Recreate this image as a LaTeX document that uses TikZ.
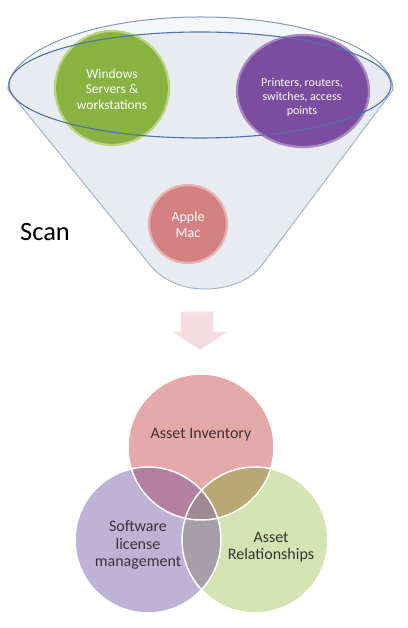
\documentclass[tikz,border=0pt]{standalone}
\usepackage{fontspec}
\setmainfont{Carlito}
\usetikzlibrary{shapes.geometric}
\definecolor{funfill}{HTML}{E8ECF1}
\definecolor{rimfill}{HTML}{F5F7FA}
\definecolor{funedge}{HTML}{A3B6CD}
\definecolor{rimblue}{HTML}{4A73AB}
\definecolor{outblue}{HTML}{7F9CC4}
\definecolor{wingreen}{HTML}{88B341}
\definecolor{winrim}{HTML}{BCD583}
\definecolor{prpurple}{HTML}{7B4C9F}
\definecolor{prrim}{HTML}{A888C2}
\definecolor{macpink}{HTML}{D48281}
\definecolor{macrim}{HTML}{E7B3B1}
\definecolor{arrpink}{HTML}{F5DCE0}
\definecolor{vpink}{HTML}{E5A9AA}
\definecolor{vpurple}{HTML}{BFB3D5}
\definecolor{vgreen}{HTML}{D3E3B2}
\definecolor{vpp}{HTML}{B3819F}
\definecolor{vpg}{HTML}{BBA773}
\definecolor{vgg}{HTML}{A79FA8}
\definecolor{vall}{HTML}{A08893}
\definecolor{vtext}{HTML}{3B3236}
\tikzset{
  ball/.style={circle, inner sep=0pt, line width=2.2pt},
  balltext/.style={text=white, align=center, font=\fontsize{13.5}{15.5}\selectfont},
  vcircle/.style={circle, minimum size=146pt, inner sep=0pt},
  vtextstyle/.style={text=vtext, align=center, font=\fontsize{16}{17.5}\selectfont},
}
\begin{document}
\begin{tikzpicture}[x=1pt,y=1pt]
\useasboundingbox (0,0) rectangle (407,628);
% funnel body
\fill[funfill] (8,538) arc[start angle=180,end angle=0,x radius=192.5,y radius=73]
  -- (262,363) .. controls (250,347) and (228,339) .. (205,339)
  .. controls (185,339) and (164,346) .. (150,363) -- cycle;
\fill[rimfill] (8,538) arc[start angle=180,end angle=0,x radius=192.5,y radius=73]
  -- (391,543) arc[start angle=0,end angle=180,x radius=191,y radius=53] -- cycle;
\draw[funedge, line width=1pt] (393,538)
  -- (262,363) .. controls (250,347) and (228,339) .. (205,339)
  .. controls (185,339) and (164,346) .. (150,363) -- (8,538);
\draw[outblue, line width=1pt] (8,538) arc[start angle=180,end angle=0,x radius=192.5,y radius=73];
% balls
\node[ball, fill=wingreen, draw=winrim, minimum size=114pt] (win) at (112,540) {};
\node[balltext] (wintext) at (112,539) {Windows\\Servers \&\\workstations};
\node[ellipse, inner sep=0pt, line width=2.2pt, fill=prpurple, draw=prrim, minimum width=132pt, minimum height=112pt] (prn) at (303,537) {};
\node[balltext, font=\fontsize{12}{14}\selectfont] (prntext) at (302,531) {Printers, routers,\\switches, access\\points};
\node[ball, fill=macpink, draw=macrim, minimum size=78pt] (mac) at (188,404) {};
\node[balltext, font=\fontsize{14}{16}\selectfont] (mactext) at (188,403) {Apple\\Mac};
% inner rim ellipse
\draw[rimblue, line width=1.1pt] (200,543) ellipse[x radius=191, y radius=53];
% Scan label
\node[font=\fontsize{26.5}{30}\selectfont, text=black] (scan) at (45,396) {Scan};
% arrow
\fill[arrpink, draw=white!88!gray, line width=0.8pt] (181,316) -- (213,316) -- (213,296) -- (227,296)
  -- (200,278) -- (173,296) -- (181,296) -- cycle;
% Venn
\node[vcircle, fill=vpink] (inv) at (201,181) {};
\node[vcircle, fill=vpurple] (sw) at (148,88) {};
\node[vcircle, fill=vgreen] (rel) at (255,88) {};
\begin{scope}
  \clip (201,181) circle (73);
  \fill[vpp] (148,88) circle (73);
  \fill[vpg] (255,88) circle (73);
\end{scope}
\begin{scope}
  \clip (148,88) circle (73);
  \fill[vgg] (255,88) circle (73);
  \clip (201,181) circle (73);
  \fill[vall] (255,88) circle (73);
\end{scope}
\draw[white, line width=1.5pt] (inv.center) circle (73) (sw.center) circle (73) (rel.center) circle (73);
\node[vtextstyle] (invtext) at (201,193) {Asset Inventory};
\node[vtextstyle] (swtext) at (138,83) {Software\\license\\management};
\node[vtextstyle] (reltext) at (271,81) {Asset\\Relationships};
\end{tikzpicture}
\end{document}
